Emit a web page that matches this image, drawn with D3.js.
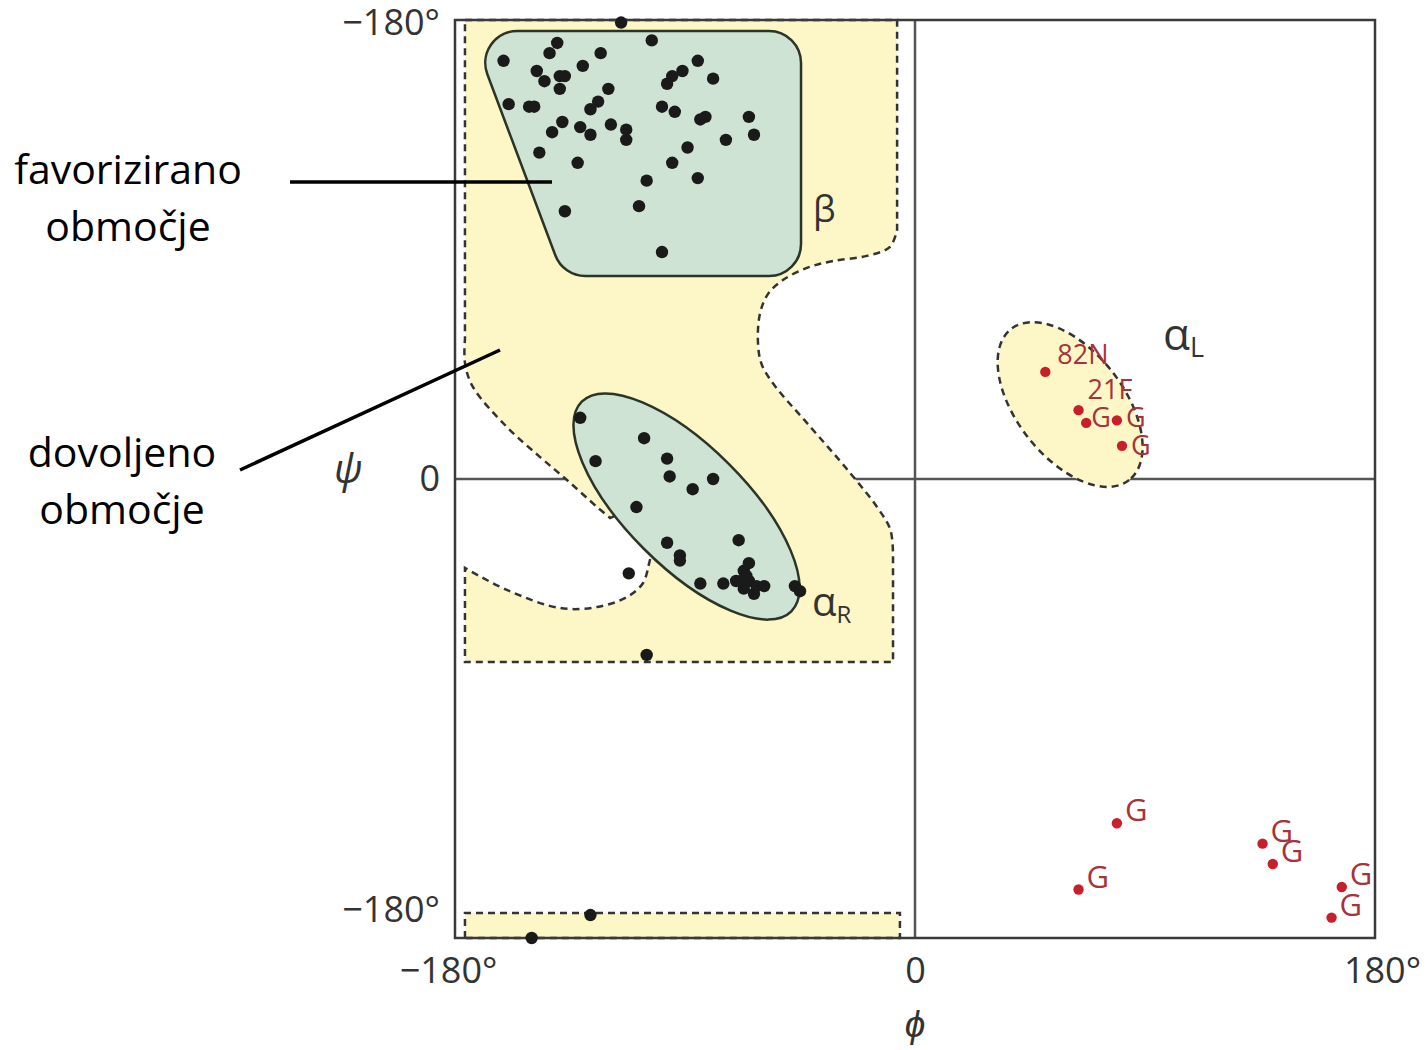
<!DOCTYPE html>
<html>
<head>
<meta charset="utf-8">
<script src="https://cdn.jsdelivr.net/npm/d3@7"></script>
<style>
  body { margin: 0; background: #fff; }
  svg text { font-family: "Open Sans", sans-serif; }
</style>
</head>
<body>
<svg id="rama" width="1427" height="1050"></svg>
<script>
// residues outside glycine (phi, psi in degrees)
const blackPhi = [-115,-103,-140,-143,-123,-161,-85,-130,-148,-91,-145,-139,-137,-95,-97,-79,-139,-120,-159,-151,-149,-124,-127,-99,-94,-84,-82,-65,-63,-138,-142,-131,-127,-119,-113,-113,-74,-89,-147,-132,-95,-105,-85,-108,-137,-99,
                  -131,-106,-125,-97,-96,-79,-87,-109,-97,-69,-92,-92,-112,-84,-75,-65,-67,-70,-65,-62,-67,-59,-63,-68,-66,-47,-45,
                  -105,-127,-150]
const blackPsi = [179,172,171,167,167,164,164,162,160,160,156,158,158,158,155,157,153,153,147,146,146,148,145,146,144,141,142,142,135,140,136,138,135,139,137,133,133,130,128,124,124,117,118,107,105,89,
                  24,16,7,8,1,0,-4,-11,-25,-24,-30,-32,-37,-41,-41,-33,-36,-40,-40,-42,-43,-42,-45,-40,-38,-42,-44,
                  -69,-171,-180]

// labelled residues (glycines and two others)
const redPhi = [51,64,67,79,81,79,64,136,140,167,163]
const redPsi = [42,27,22,23,13,-135,-161,-143,-151,-160,-172]
const redLabels = ["82N","21F","G","G","G","G","G","G","G","G","G"]

// axis ticks as printed
const phiTicks = [-180, 0, 180]
const phiTickLabels = ["−180°", "0", "180°"]
const psiTicks = [179, 0, -169]
const psiTickLabels = ["−180°", "0", "−180°"]

// allowed region outline (phi, psi)
const allowedPieces = [
  {curve:false, pts:[[-176.1,180],[-7,180],[-7,97.7]]},
  {curve:true,  pts:[[-7,97.7],[-9.8,91],[-18.8,87.5],[-32.1,85.5],[-42.3,82.8],[-51.7,78],[-57.5,72.6],[-60.7,64.7],[-61.4,52.6],[-59.9,44.7],[-54.8,36.5],[-42.3,22],[-25.4,2.4],[-14.5,-11.5],[-9.6,-20],[-8.6,-29.8]]},
  {curve:false, pts:[[-8.6,-29.8],[-8.6,-71.8],[-176.1,-71.8],[-176.1,-34.9]]},
  {curve:true,  pts:[[-176.1,-34.9],[-159.7,-43.5],[-138.9,-50.6],[-124.4,-50.2],[-112.7,-46.3],[-106.4,-40.8],[-104.4,-34.5]]},
  {curve:false, pts:[[-104.4,-34.5],[-99.8,-16.1],[-112,-12],[-119.3,-15.3]]},
  {curve:true,  pts:[[-119.3,-15.3],[-124.4,-11],[-136.2,-0.4],[-146.7,8.6],[-159.7,20.4],[-173,36.1],[-176.1,45.5],[-176.1,55]]}
]
const allowedStrip = [[-176.1,-180],[-176.1,-170.2],[-5.9,-170.2],[-5.9,-180]]
// alpha L allowed ellipse: centre, semi axes (deg), rotation
const alphaL = {phi:60.7, psi:29.2, a:37.5, b:20.9, rot:52}
// favoured regions
const betaCorners = [[-173.7,175.7],[-44.6,175.7],[-44.6,79.6],[-137.7,79.6]]
const alphaR = {phi:-89.4, psi:-10.8, a:58, b:23.5, rot:45}

const svg = d3.select("#rama")
const x = d3.scaleLinear().domain([-180,180]).range([455,1375])
const y = d3.scaleLinear().domain([-180,180]).range([938,20])
const kx = x(1) - x(0)

const yellow = "#fdf6c6", green = "#cee3d3"

// zero lines
svg.append("line").attr("x1",x(0)).attr("x2",x(0)).attr("y1",y(180)).attr("y2",y(-180))
  .attr("stroke","#555").attr("stroke-width",2.5)
svg.append("line").attr("x1",x(-180)).attr("x2",x(180)).attr("y1",y(0)).attr("y2",y(0))
  .attr("stroke","#555").attr("stroke-width",2.5)

function piecePath(pieces){
  return pieces.map((p,i) => {
    let gen = d3.line().x(d => x(d[0])).y(d => y(d[1]))
      .curve(p.curve ? d3.curveCatmullRom.alpha(0.5) : d3.curveLinear)
    let s = gen(p.pts)
    return i ? s.replace(/^M/, "L") : s
  }).join("") + "Z"
}

let dashed = sel => sel.attr("fill",yellow).attr("stroke","#333").attr("stroke-width",2.5).attr("stroke-dasharray","7,5")

svg.append("path").attr("d", piecePath(allowedPieces)).call(dashed)
svg.append("path").attr("d", d3.line().x(d => x(d[0])).y(d => y(d[1]))(allowedStrip) + "Z").call(dashed)
svg.append("ellipse")
  .attr("transform", `translate(${x(alphaL.phi)},${y(alphaL.psi)}) rotate(${alphaL.rot})`)
  .attr("rx", alphaL.a*kx).attr("ry", alphaL.b*kx)
  .call(dashed)

// rounded beta box
function roundedPoly(pts, r){
  let p = d3.path()
  let P = pts.map(d => [x(d[0]), y(d[1])])
  let n = P.length
  let last = P[n-1], first = P[0]
  p.moveTo((last[0]+first[0])/2, (last[1]+first[1])/2)
  for (let i = 0; i < n; i++){
    let c = P[i], nx = P[(i+1)%n]
    p.arcTo(c[0], c[1], (c[0]+nx[0])/2, (c[1]+nx[1])/2, r)
  }
  p.closePath()
  return p.toString()
}
svg.append("path").attr("d", roundedPoly(betaCorners, 32))
  .attr("fill",green).attr("stroke","#2c3327").attr("stroke-width",2.5)
svg.append("ellipse")
  .attr("transform", `translate(${x(alphaR.phi)},${y(alphaR.psi)}) rotate(${alphaR.rot})`)
  .attr("rx", alphaR.a*kx).attr("ry", alphaR.b*kx)
  .attr("fill",green).attr("stroke","#2c3327").attr("stroke-width",2.5)

// frame
svg.append("rect").attr("x",x(-180)).attr("y",y(180))
  .attr("width",x(180)-x(-180)).attr("height",y(-180)-y(180))
  .attr("fill","none").attr("stroke","#3a3a3a").attr("stroke-width",2.5)

// residues
svg.selectAll(".res").data(blackPhi).enter().append("circle")
  .attr("class","res")
  .attr("cx",(d,i) => x(blackPhi[i])).attr("cy",(d,i) => y(blackPsi[i]))
  .attr("r",6.2).attr("fill","#1a1a1a")

svg.selectAll(".gly").data(redPhi).enter().append("circle")
  .attr("class","gly")
  .attr("cx",(d,i) => x(redPhi[i])).attr("cy",(d,i) => y(redPsi[i]))
  .attr("r",5.2).attr("fill","#c8202b")

// label nudges in px, first five sit in the crowded alpha L cluster
const nudge = [[12,-8],[9,-11],[5,4],[9,7],[9,9]]
svg.selectAll(".glyLab").data(redLabels).enter().append("text")
  .attr("class","glyLab")
  .attr("x",(d,i) => x(redPhi[i]) + (nudge[i] ? nudge[i][0] : 8))
  .attr("y",(d,i) => y(redPsi[i]) + (nudge[i] ? nudge[i][1] : -2))
  .attr("font-size",(d,i) => i < 5 ? 27 : 31)
  .attr("fill","#a8323a")
  .text(d => d)

// axes
let yAxis = d3.axisLeft(y).tickValues(psiTicks).tickFormat((d,i) => psiTickLabels[i]).tickSize(0).tickPadding(15)
svg.append("g").attr("transform",`translate(${x(-180)},0)`).call(yAxis)
  .call(g => g.select(".domain").remove())
  .attr("font-size",36).attr("font-family","Open Sans").selectAll("text").attr("fill","#333")
const phiShift = [-7, 0, 7]
let xAxis = d3.axisBottom(x).tickValues(phiTicks).tickFormat((d,i) => phiTickLabels[i]).tickSize(0).tickPadding(19)
svg.append("g").attr("transform",`translate(0,${y(-180)})`).call(xAxis)
  .call(g => g.select(".domain").remove())
  .attr("font-size",36).attr("font-family","Open Sans")
  .selectAll("text").attr("fill","#333").attr("dx",(d,i) => phiShift[i])

svg.append("text").attr("x",348).attr("y",y(0)+4).attr("text-anchor","middle")
  .attr("font-family","Liberation Serif").attr("font-style","italic").attr("font-size",40).attr("fill","#333").text("ψ")
svg.append("text").attr("x",x(0)).attr("y",1037).attr("text-anchor","middle")
  .attr("font-family","Liberation Serif").attr("font-style","italic").attr("font-size",37).attr("fill","#333").text("ϕ")

// region names
svg.append("text").attr("x",813).attr("y",222).attr("font-family","Liberation Serif")
  .attr("font-size",36).attr("fill","#333").text("β")
let aR = svg.append("text").attr("x",812).attr("y",616).attr("font-size",40).attr("fill","#333")
aR.append("tspan").text("α")
aR.append("tspan").attr("font-size",24).attr("dy",7).text("R")
let aL = svg.append("text").attr("x",1163).attr("y",350).attr("font-size",44).attr("fill","#333")
aL.append("tspan").text("α")
aL.append("tspan").attr("font-size",27).attr("dy",7).text("L")

// annotations
const favLines = ["favorizirano", "območje"]
const allowLines = ["dovoljeno", "območje"]
svg.selectAll(".fav").data(favLines).enter().append("text").attr("class","fav")
  .attr("x",128).attr("y",(d,i) => 184 + i*57).attr("text-anchor","middle")
  .attr("font-size",41).attr("fill","#000").text(d => d)
svg.selectAll(".allow").data(allowLines).enter().append("text").attr("class","allow")
  .attr("x",122).attr("y",(d,i) => 467 + i*57).attr("text-anchor","middle")
  .attr("font-size",41).attr("fill","#000").text(d => d)
svg.append("line").attr("x1",290).attr("y1",182).attr("x2",552).attr("y2",182)
  .attr("stroke","#000").attr("stroke-width",3.5)
svg.append("line").attr("x1",240).attr("y1",470).attr("x2",500).attr("y2",350)
  .attr("stroke","#000").attr("stroke-width",3.5)
</script>
</body>
</html>
